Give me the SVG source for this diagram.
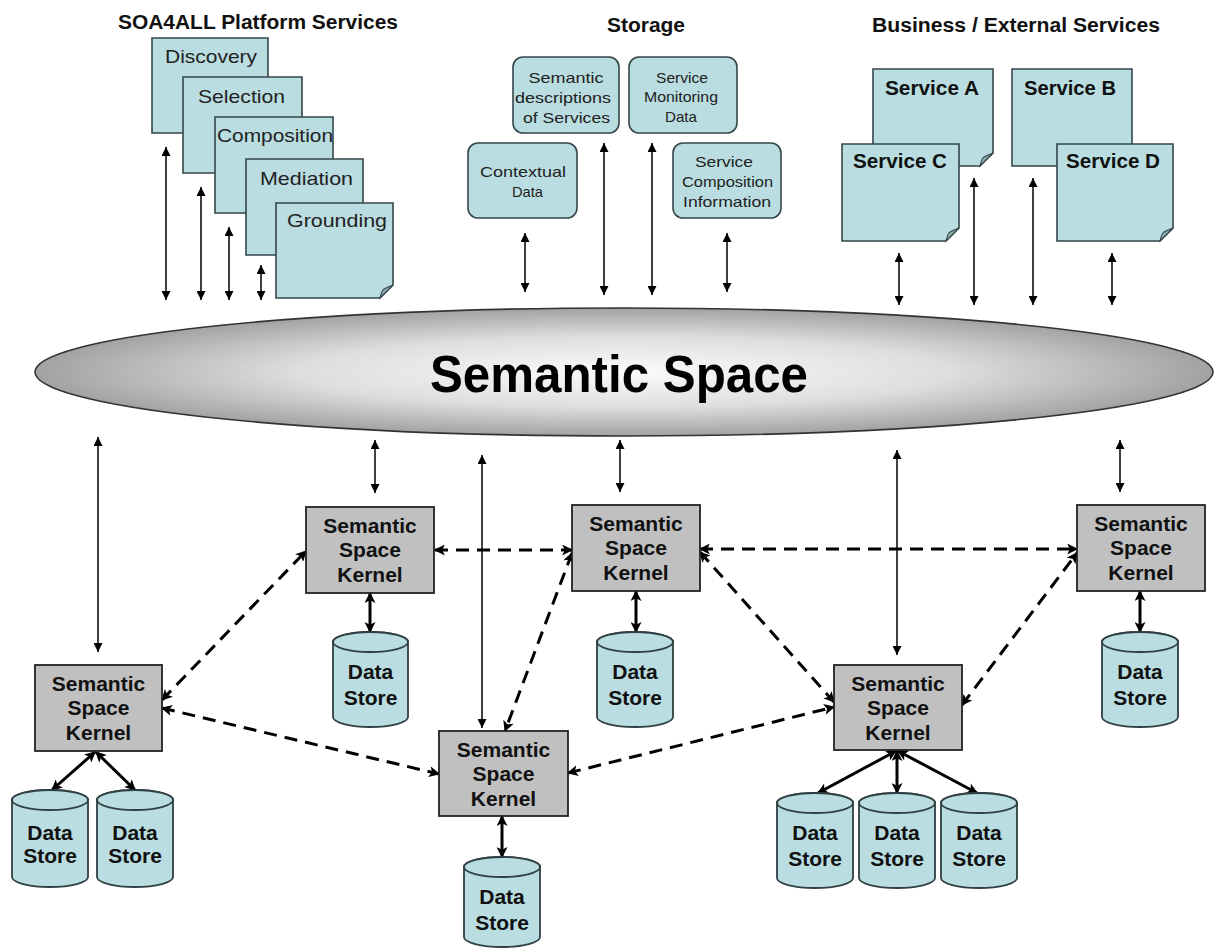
<svg xmlns="http://www.w3.org/2000/svg" width="1215" height="951" viewBox="0 0 1215 951">
  <defs>
    <style>
      .page{fill:#b9dde0;stroke:#34464a;stroke-width:1.6}
      .fold{fill:#8fb0b3;stroke:#34464a;stroke-width:1.1}
      .store{fill:#b9dde0;stroke:#34464a;stroke-width:1.6}
      .kernel{fill:#c0c0c0;stroke:#222;stroke-width:1.8}
      .cyl{fill:#b9dde0;stroke:#2f3f42;stroke-width:1.8}
      text{font-family:"Liberation Sans",Arial,sans-serif;fill:#111}
      .h{font-size:20px;font-weight:bold;text-anchor:middle}
      .pl{font-size:19px;text-anchor:middle;fill:#222}
      .st{font-size:15px;text-anchor:middle;fill:#222}
      .sv{font-size:20px;font-weight:bold;text-anchor:middle}
      .k{font-size:21px;font-weight:bold;text-anchor:middle}
      .ds{font-size:21px;font-weight:bold;text-anchor:middle}
      .big{font-size:52px;font-weight:bold;text-anchor:middle;fill:#000}
      .thin{stroke:#000;stroke-width:1.5;fill:none;marker-start:url(#ah);marker-end:url(#ah)}
      .thick{stroke:#000;stroke-width:3;fill:none;marker-start:url(#ahb);marker-end:url(#ahb)}
      .dash{stroke:#000;stroke-width:3;fill:none;stroke-dasharray:13 8;marker-start:url(#ahb);marker-end:url(#ahb)}
    </style>
    <marker id="ah" viewBox="0 0 10 10" refX="10" refY="5" markerWidth="10" markerHeight="9" markerUnits="userSpaceOnUse" orient="auto-start-reverse">
      <path d="M0,0 L10,5 L0,10 z" fill="#000"/>
    </marker>
    <marker id="ahb" viewBox="0 0 10 10" refX="9" refY="5" markerWidth="12" markerHeight="11" markerUnits="userSpaceOnUse" orient="auto-start-reverse">
      <path d="M0,0 L10,5 L0,10 L2.5,5 z" fill="#000"/>
    </marker>
    <radialGradient id="spaceFill" cx="0.5" cy="0.5" r="0.5">
      <stop offset="0" stop-color="#fbfbfb"/>
      <stop offset="0.55" stop-color="#dedede"/>
      <stop offset="1" stop-color="#a2a2a2"/>
    </radialGradient>
  </defs>

  <!-- section headings -->
  <g id="headings">
    <text class="h" x="258" y="29" textLength="280" lengthAdjust="spacingAndGlyphs">SOA4ALL Platform Services</text>
    <text class="h" x="646" y="32" textLength="78" lengthAdjust="spacingAndGlyphs">Storage</text>
    <text class="h" x="1016" y="32" textLength="288" lengthAdjust="spacingAndGlyphs">Business / External Services</text>
  </g>

  <!-- platform service pages, stacked back to front -->
  <g id="discovery">
    <path class="page" d="M152,38 H268 V120 L255,133 H152 Z"/>
    <text class="pl" x="211" y="63" textLength="92" lengthAdjust="spacingAndGlyphs">Discovery</text>
  </g>
  <g id="selection">
    <path class="page" d="M183,77 H302 V160 L289,173 H183 Z"/>
    <text class="pl" x="241.5" y="103" textLength="87" lengthAdjust="spacingAndGlyphs">Selection</text>
  </g>
  <g id="composition">
    <path class="page" d="M215,117 H333 V200 L320,213 H215 Z"/>
    <text class="pl" x="275" y="142" textLength="116" lengthAdjust="spacingAndGlyphs">Composition</text>
  </g>
  <g id="mediation">
    <path class="page" d="M246,159 H363 V242 L350,255 H246 Z"/>
    <text class="pl" x="306.5" y="185" textLength="93" lengthAdjust="spacingAndGlyphs">Mediation</text>
  </g>
  <g id="grounding">
    <path class="page" d="M276,203 H393 V285 L380,298 H276 Z"/>
    <path class="fold" d="M380,298 Q382,290 384,289 Q388,287 393,285 Z"/>
    <text class="pl" x="337" y="227" textLength="100" lengthAdjust="spacingAndGlyphs">Grounding</text>
  </g>

  <!-- storage repositories -->
  <g id="semantic-descriptions">
    <rect class="store" x="513" y="57" width="106" height="76" rx="10"/>
    <text class="st" x="566" y="83" textLength="75" lengthAdjust="spacingAndGlyphs">Semantic</text>
    <text class="st" x="563" y="103" textLength="96" lengthAdjust="spacingAndGlyphs">descriptions</text>
    <text class="st" x="566.5" y="123" textLength="87" lengthAdjust="spacingAndGlyphs">of Services</text>
  </g>
  <g id="monitoring-data">
    <rect class="store" x="629" y="57" width="108" height="76" rx="10"/>
    <text class="st" x="682" y="83" textLength="52" lengthAdjust="spacingAndGlyphs">Service</text>
    <text class="st" x="681" y="102" textLength="74" lengthAdjust="spacingAndGlyphs">Monitoring</text>
    <text class="st" x="681" y="122" textLength="32" lengthAdjust="spacingAndGlyphs">Data</text>
  </g>
  <g id="contextual-data">
    <rect class="store" x="468" y="143" width="109" height="75" rx="10"/>
    <text class="st" x="523" y="177" textLength="86" lengthAdjust="spacingAndGlyphs">Contextual</text>
    <text class="st" x="527.5" y="197" textLength="31" lengthAdjust="spacingAndGlyphs">Data</text>
  </g>
  <g id="composition-info">
    <rect class="store" x="673" y="143" width="108" height="75" rx="10"/>
    <text class="st" x="724" y="167" textLength="58" lengthAdjust="spacingAndGlyphs">Service</text>
    <text class="st" x="727.5" y="187" textLength="91" lengthAdjust="spacingAndGlyphs">Composition</text>
    <text class="st" x="727" y="207" textLength="88" lengthAdjust="spacingAndGlyphs">Information</text>
  </g>

  <!-- business services -->
  <g id="service-a">
    <path class="page" d="M873,69 H993 V153 L980,166 H873 Z"/>
    <path class="fold" d="M980,166 Q982,158 984,157 Q988,155 993,153 Z"/>
    <text class="sv" x="932" y="95" textLength="94" lengthAdjust="spacingAndGlyphs">Service A</text>
  </g>
  <g id="service-b">
    <path class="page" d="M1012,69 H1132 V153 L1119,166 H1012 Z"/>
    <text class="sv" x="1070" y="95" textLength="92" lengthAdjust="spacingAndGlyphs">Service B</text>
  </g>
  <g id="service-c">
    <path class="page" d="M842,144 H959 V228 L946,241 H842 Z"/>
    <path class="fold" d="M946,241 Q948,233 950,232 Q954,230 959,228 Z"/>
    <text class="sv" x="900" y="168" textLength="94" lengthAdjust="spacingAndGlyphs">Service C</text>
  </g>
  <g id="service-d">
    <path class="page" d="M1057,144 H1173 V228 L1160,241 H1057 Z"/>
    <path class="fold" d="M1160,241 Q1162,233 1164,232 Q1168,230 1173,228 Z"/>
    <text class="sv" x="1113" y="168" textLength="94" lengthAdjust="spacingAndGlyphs">Service D</text>
  </g>

  <!-- shared semantic space -->
  <g id="semantic-space">
    <ellipse cx="624" cy="372" rx="589" ry="64" fill="url(#spaceFill)" stroke="#333" stroke-width="1.6"/>
    <text class="big" x="619" y="392" textLength="378" lengthAdjust="spacingAndGlyphs">Semantic Space</text>
  </g>

  <!-- connectors -->
  <g id="connectors">
    <!-- platform services to space -->
    <line class="thin" x1="166" y1="147" x2="166" y2="300"/>
    <line class="thin" x1="201" y1="187" x2="201" y2="300"/>
    <line class="thin" x1="229" y1="227" x2="229" y2="300"/>
    <line class="thin" x1="261" y1="265" x2="261" y2="300"/>
    <!-- storage to space -->
    <line class="thin" x1="525" y1="233" x2="525" y2="292"/>
    <line class="thin" x1="604" y1="143" x2="604" y2="295"/>
    <line class="thin" x1="652" y1="143" x2="652" y2="295"/>
    <line class="thin" x1="727" y1="233" x2="727" y2="292"/>
    <!-- business services to space -->
    <line class="thin" x1="899" y1="253" x2="899" y2="305"/>
    <line class="thin" x1="974" y1="178" x2="974" y2="305"/>
    <line class="thin" x1="1033" y1="178" x2="1033" y2="305"/>
    <line class="thin" x1="1112" y1="253" x2="1112" y2="305"/>
    <!-- space to kernels -->
    <line class="thin" x1="98" y1="437" x2="98" y2="652"/>
    <line class="thin" x1="375" y1="440" x2="375" y2="493"/>
    <line class="thin" x1="482" y1="455" x2="482" y2="728"/>
    <line class="thin" x1="620" y1="440" x2="620" y2="492"/>
    <line class="thin" x1="897" y1="450" x2="897" y2="655"/>
    <line class="thin" x1="1120" y1="440" x2="1120" y2="492"/>
    <!-- kernel peer links -->
    <line class="dash" x1="435" y1="550" x2="572" y2="550"/>
    <line class="dash" x1="700" y1="549" x2="1077" y2="549"/>
    <line class="dash" x1="162" y1="700" x2="306" y2="551"/>
    <line class="dash" x1="162" y1="708" x2="439" y2="774"/>
    <line class="dash" x1="572" y1="553" x2="505" y2="731"/>
    <line class="dash" x1="568" y1="773" x2="834" y2="707"/>
    <line class="dash" x1="700" y1="552" x2="834" y2="702"/>
    <line class="dash" x1="962" y1="705" x2="1077" y2="553"/>
    <!-- kernels to data stores -->
    <line class="thick" x1="370" y1="593" x2="370" y2="632"/>
    <line class="thick" x1="636" y1="591" x2="636" y2="632"/>
    <line class="thick" x1="1140" y1="591" x2="1140" y2="632"/>
    <line class="thick" x1="502" y1="816" x2="502" y2="857"/>
    <line class="thick" x1="95" y1="752" x2="52" y2="790"/>
    <line class="thick" x1="96" y1="752" x2="135" y2="790"/>
    <line class="thick" x1="896" y1="751" x2="818" y2="793"/>
    <line class="thick" x1="897" y1="751" x2="897" y2="793"/>
    <line class="thick" x1="898" y1="751" x2="977" y2="793"/>
  </g>

  <!-- semantic space kernels -->
  <g id="kernel-1">
    <rect class="kernel" x="35" y="665" width="127" height="86"/>
    <text class="k" x="98.5" y="691">Semantic</text>
    <text class="k" x="98.5" y="715">Space</text>
    <text class="k" x="98.5" y="740">Kernel</text>
  </g>
  <g id="kernel-2">
    <rect class="kernel" x="306" y="507" width="128" height="86"/>
    <text class="k" x="370" y="533">Semantic</text>
    <text class="k" x="370" y="557">Space</text>
    <text class="k" x="370" y="582">Kernel</text>
  </g>
  <g id="kernel-3">
    <rect class="kernel" x="572" y="505" width="128" height="86"/>
    <text class="k" x="636" y="531">Semantic</text>
    <text class="k" x="636" y="555">Space</text>
    <text class="k" x="636" y="580">Kernel</text>
  </g>
  <g id="kernel-4">
    <rect class="kernel" x="439" y="731" width="129" height="85"/>
    <text class="k" x="503.5" y="757">Semantic</text>
    <text class="k" x="503.5" y="781">Space</text>
    <text class="k" x="503.5" y="806">Kernel</text>
  </g>
  <g id="kernel-5">
    <rect class="kernel" x="834" y="665" width="128" height="85"/>
    <text class="k" x="898" y="691">Semantic</text>
    <text class="k" x="898" y="715">Space</text>
    <text class="k" x="898" y="740">Kernel</text>
  </g>
  <g id="kernel-6">
    <rect class="kernel" x="1077" y="505" width="128" height="86"/>
    <text class="k" x="1141" y="531">Semantic</text>
    <text class="k" x="1141" y="555">Space</text>
    <text class="k" x="1141" y="580">Kernel</text>
  </g>

  <!-- data stores -->
  <g id="store-k2">
    <path class="cyl" d="M333,642 A37.5,10 0 0 1 408,642 V717 A37.5,10 0 0 1 333,717 Z"/>
    <ellipse class="cyl" cx="370.5" cy="642" rx="37.5" ry="10"/>
    <text class="ds" x="370.5" y="679">Data</text>
    <text class="ds" x="370.5" y="705">Store</text>
  </g>
  <g id="store-k3">
    <path class="cyl" d="M597,642 A38,10 0 0 1 673,642 V717 A38,10 0 0 1 597,717 Z"/>
    <ellipse class="cyl" cx="635" cy="642" rx="38" ry="10"/>
    <text class="ds" x="635" y="679">Data</text>
    <text class="ds" x="635" y="705">Store</text>
  </g>
  <g id="store-k6">
    <path class="cyl" d="M1102,642 A38,10 0 0 1 1178,642 V717 A38,10 0 0 1 1102,717 Z"/>
    <ellipse class="cyl" cx="1140" cy="642" rx="38" ry="10"/>
    <text class="ds" x="1140" y="679">Data</text>
    <text class="ds" x="1140" y="705">Store</text>
  </g>
  <g id="store-k4">
    <path class="cyl" d="M464,867 A38,10 0 0 1 540,867 V937 A38,10 0 0 1 464,937 Z"/>
    <ellipse class="cyl" cx="502" cy="867" rx="38" ry="10"/>
    <text class="ds" x="502" y="904">Data</text>
    <text class="ds" x="502" y="930">Store</text>
  </g>
  <g id="store-k1-a">
    <path class="cyl" d="M12,800 A38,10 0 0 1 88,800 V877 A38,10 0 0 1 12,877 Z"/>
    <ellipse class="cyl" cx="50" cy="800" rx="38" ry="10"/>
    <text class="ds" x="50" y="840">Data</text>
    <text class="ds" x="50" y="863">Store</text>
  </g>
  <g id="store-k1-b">
    <path class="cyl" d="M97,800 A38,10 0 0 1 173,800 V877 A38,10 0 0 1 97,877 Z"/>
    <ellipse class="cyl" cx="135" cy="800" rx="38" ry="10"/>
    <text class="ds" x="135" y="840">Data</text>
    <text class="ds" x="135" y="863">Store</text>
  </g>
  <g id="store-k5-a">
    <path class="cyl" d="M777,803 A38,10 0 0 1 853,803 V878 A38,10 0 0 1 777,878 Z"/>
    <ellipse class="cyl" cx="815" cy="803" rx="38" ry="10"/>
    <text class="ds" x="815" y="840">Data</text>
    <text class="ds" x="815" y="866">Store</text>
  </g>
  <g id="store-k5-b">
    <path class="cyl" d="M859,803 A38,10 0 0 1 935,803 V878 A38,10 0 0 1 859,878 Z"/>
    <ellipse class="cyl" cx="897" cy="803" rx="38" ry="10"/>
    <text class="ds" x="897" y="840">Data</text>
    <text class="ds" x="897" y="866">Store</text>
  </g>
  <g id="store-k5-c">
    <path class="cyl" d="M941,803 A38,10 0 0 1 1017,803 V878 A38,10 0 0 1 941,878 Z"/>
    <ellipse class="cyl" cx="979" cy="803" rx="38" ry="10"/>
    <text class="ds" x="979" y="840">Data</text>
    <text class="ds" x="979" y="866">Store</text>
  </g>
</svg>
